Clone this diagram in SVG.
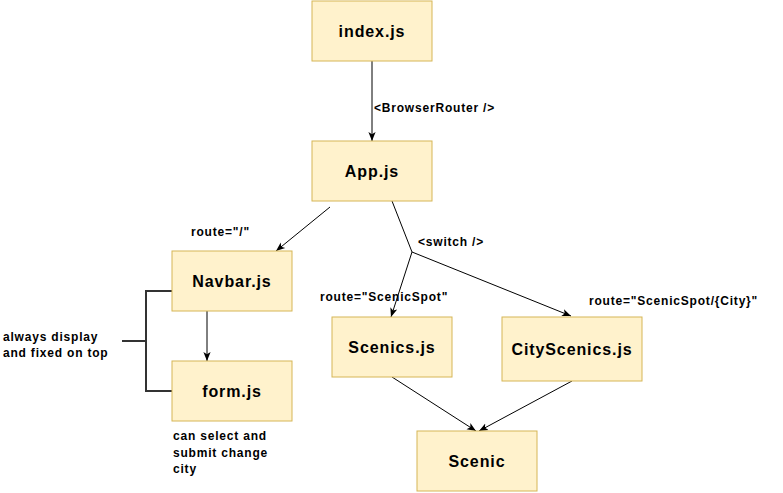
<svg xmlns="http://www.w3.org/2000/svg" width="783" height="493" viewBox="0 0 783 493">
<style>
.node rect{fill:#fff2cc;stroke:#d6b656;stroke-width:1}
.node text{font-family:"Liberation Sans",Arial,sans-serif;font-weight:bold;font-size:16px;letter-spacing:0.9px;text-anchor:middle;fill:#000}
.lbl{font-family:"Liberation Sans",Arial,sans-serif;font-weight:bold;font-size:12px;letter-spacing:0.8px;fill:#000}
.edge{fill:none;stroke:#000;stroke-width:1}
.bracket{fill:none;stroke:#333;stroke-width:2}
</style>
<defs>
<marker id="arr" viewBox="0 0 10 10" refX="10" refY="5" markerWidth="9" markerHeight="9" markerUnits="userSpaceOnUse" orient="auto">
<path d="M0,1 L10,5 L0,9 L2.5,5 z" fill="#000"/>
</marker>
</defs>
<rect width="783" height="493" fill="#fff"/>
<g id="connectors">
<path class="edge" d="M372,61 L372,141" marker-end="url(#arr)"/>
<path class="edge" d="M330,207 L276,251" marker-end="url(#arr)"/>
<path class="edge" d="M392,201 L412,252 L391,317" marker-end="url(#arr)"/>
<path class="edge" d="M412,252 L571,316" marker-end="url(#arr)"/>
<path class="edge" d="M207,311 L207,361" marker-end="url(#arr)"/>
<path class="edge" d="M392,377 L476,431" marker-end="url(#arr)"/>
<path class="edge" d="M572,381 L479,431" marker-end="url(#arr)"/>
<path class="bracket" d="M172,291 L146,291 L146,391 L172,391 M122,341 L146,341"/>
<text class="lbl" x="374" y="112">&lt;BrowserRouter /&gt;</text>
<text class="lbl" x="191" y="236">route=&quot;/&quot;</text>
<text class="lbl" x="418" y="246">&lt;switch /&gt;</text>
<text class="lbl" x="320" y="301">route=&quot;ScenicSpot&quot;</text>
<text class="lbl" x="589" y="305">route=&quot;ScenicSpot/{City}&quot;</text>
</g>
<g id="index" class="node"><rect x="312" y="1" width="120" height="60"/><text x="372" y="37">index.js</text></g>
<g id="app" class="node"><rect x="312" y="141" width="120" height="60"/><text x="372" y="177">App.js</text></g>
<g id="navbar" class="node"><rect x="172" y="251" width="120" height="60"/><text x="232" y="287">Navbar.js</text></g>
<g id="form" class="node"><rect x="172" y="361" width="120" height="60"/><text x="232" y="397">form.js</text></g>
<g id="scenics" class="node"><rect x="332" y="317" width="120" height="60"/><text x="392" y="353">Scenics.js</text></g>
<g id="cityscenics" class="node"><rect x="502" y="317" width="140" height="64"/><text x="572" y="355">CityScenics.js</text></g>
<g id="scenic" class="node"><rect x="417" y="431" width="120" height="60"/><text x="477" y="467">Scenic</text></g>
<g id="note-left">
<text class="lbl" x="3" y="341">always display</text>
<text class="lbl" x="3" y="357">and fixed on top</text>
</g>
<g id="note-form">
<text class="lbl" x="173" y="440">can select and</text>
<text class="lbl" x="173" y="457">submit change</text>
<text class="lbl" x="173" y="473">city</text>
</g>
</svg>
